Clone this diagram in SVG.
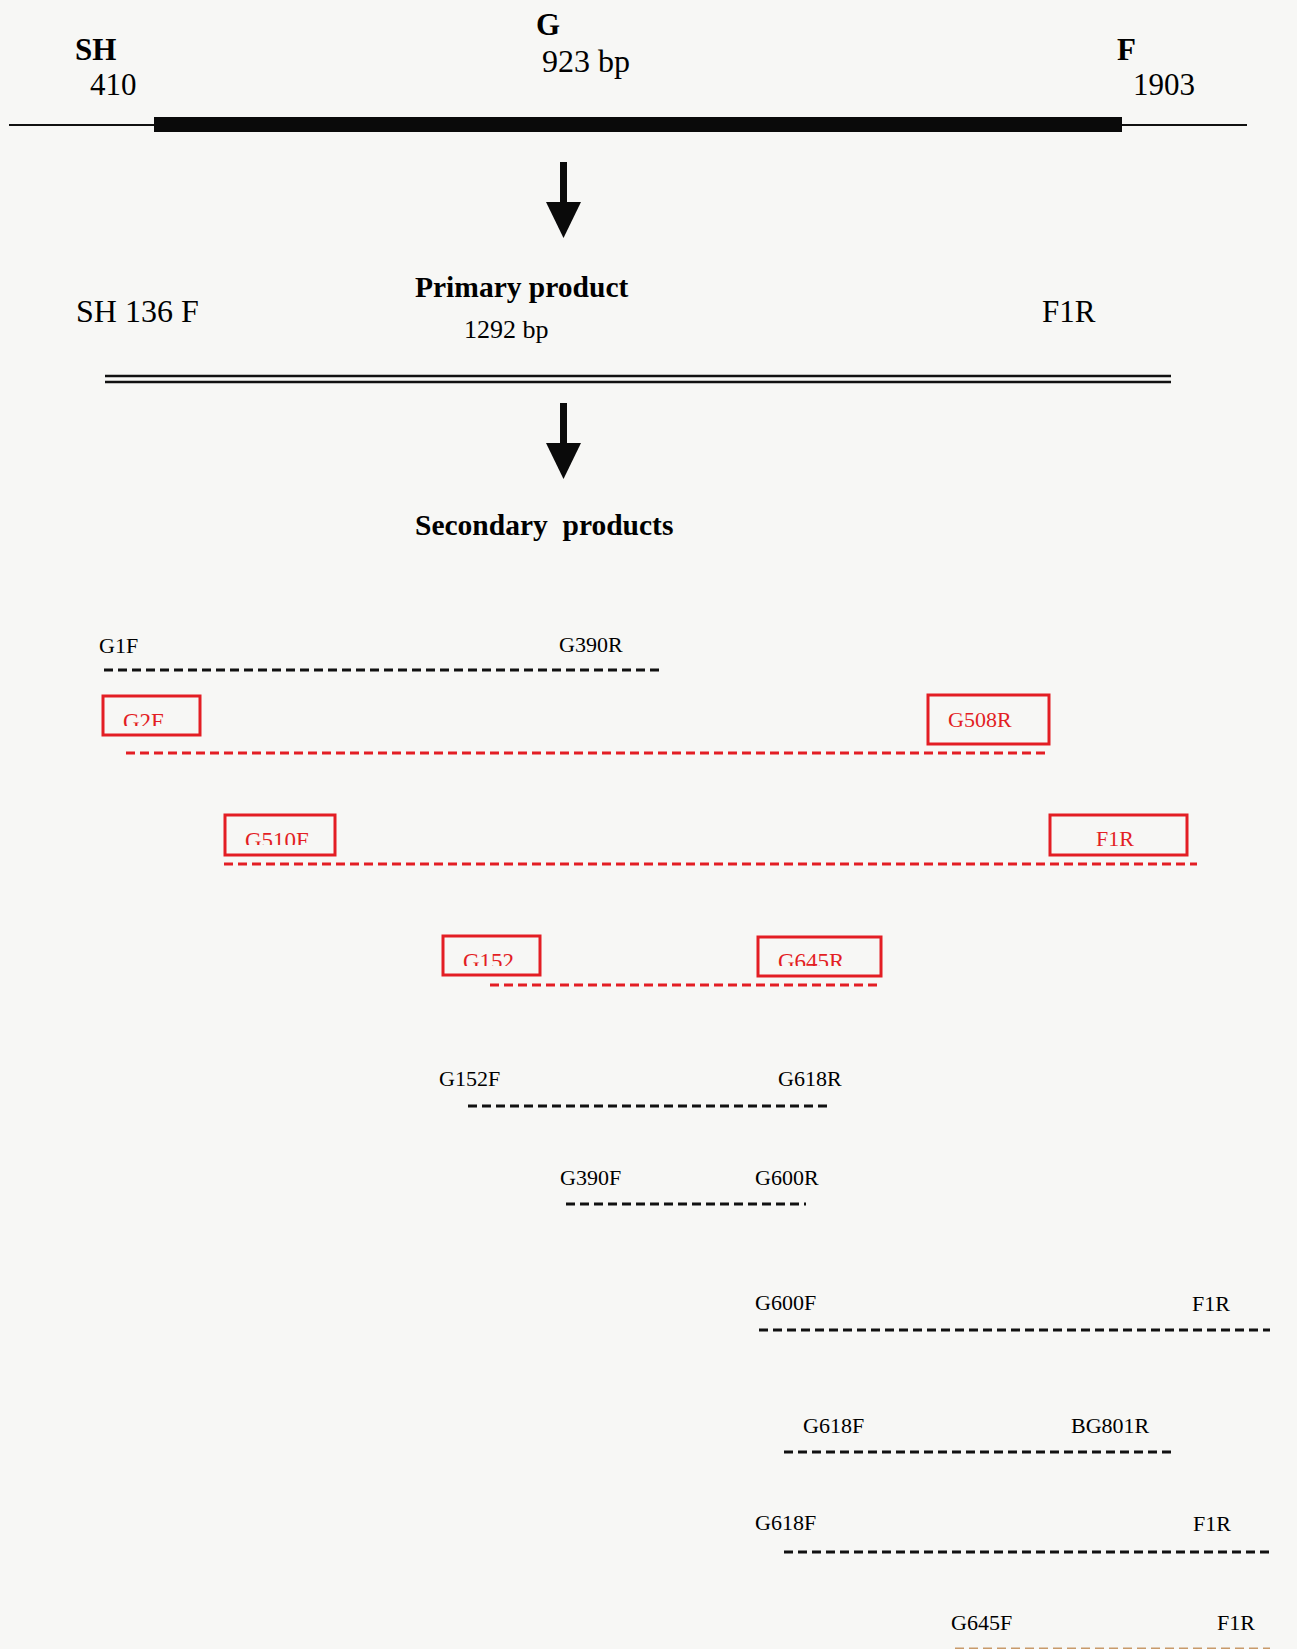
<svg xmlns="http://www.w3.org/2000/svg" width="1297" height="1649" viewBox="0 0 1297 1649">
<style>
.t{font-family:"Liberation Serif","Times New Roman",serif;fill:#000}
.b{font-weight:bold}
.big{font-size:31px}
.hd{font-size:29.5px;font-weight:bold}
.lb{font-size:22px}
.rt{font-family:"Liberation Serif","Times New Roman",serif;font-size:22px;fill:#e31e24}
.box{fill:none;stroke:#e31e24;stroke-width:3}
.dk{stroke:#111;stroke-width:3;stroke-dasharray:9 5;fill:none}
.dr{stroke:#e31e24;stroke-width:3;stroke-dasharray:9 5;fill:none}
</style>
<defs>
<clipPath id="cG2F"><rect x="100" y="690" width="110" height="36"/></clipPath>
<clipPath id="cG510F"><rect x="220" y="810" width="120" height="35"/></clipPath>
<clipPath id="cG152"><rect x="440" y="930" width="105" height="36"/></clipPath>
<clipPath id="cG645R"><rect x="755" y="930" width="130" height="36"/></clipPath>
</defs>
<rect x="0" y="0" width="1297" height="1649" fill="#f7f7f5"/>

<g id="genome">
<line x1="9" y1="125" x2="1247" y2="125" stroke="#111" stroke-width="2"/>
<rect x="154" y="117" width="968" height="15" fill="#0a0a0a"/>
<text class="t b big" x="75" y="60">SH</text>
<text class="t big" x="90" y="95">410</text>
<text class="t b big" x="536" y="35">G</text>
<text class="t big" x="542" y="72" style="font-size:32px">923 bp</text>
<text class="t b big" x="1117" y="60">F</text>
<text class="t big" x="1133" y="95">1903</text>
</g>

<g id="primary">
<text class="t hd" x="415" y="297">Primary product</text>
<text class="t big" x="76" y="322" style="font-size:32px">SH 136 F</text>
<text class="t big" x="1042" y="322">F1R</text>
<text class="t" style="font-size:26px" x="464" y="338">1292 bp</text>
<line x1="105" y1="376" x2="1171" y2="376" stroke="#111" stroke-width="2.5"/>
<line x1="105" y1="382" x2="1171" y2="382" stroke="#111" stroke-width="2.5"/>
</g>

<g id="secondary-title">
<text class="t hd" x="415" y="535">Secondary&#160; products</text>
</g>

<g id="connectors">
<rect x="560" y="162" width="7" height="42" fill="#0a0a0a"/>
<polygon points="546,202 581,202 563.5,238" fill="#0a0a0a"/>
<rect x="560" y="403" width="7" height="42" fill="#0a0a0a"/>
<polygon points="546,443 581,443 563.5,479" fill="#0a0a0a"/>
</g>

<g id="p-G1F-G390R">
<text class="t lb" x="99" y="653">G1F</text>
<text class="t lb" x="559" y="652">G390R</text>
<line class="dk" x1="104" y1="670" x2="661" y2="670"/>
</g>

<g id="p-G2F-G508R">
<rect class="box" x="103" y="696" width="97" height="39"/>
<text class="rt" x="123" y="728.5" clip-path="url(#cG2F)" style="font-size:23px">G2F</text>
<rect class="box" x="928" y="695" width="121" height="49"/>
<text class="rt" x="948" y="727">G508R</text>
<line class="dr" x1="126" y1="753" x2="1047" y2="753"/>
</g>

<g id="p-G510F-F1R">
<rect class="box" x="225" y="815" width="110" height="40"/>
<text class="rt" x="245" y="847.5" clip-path="url(#cG510F)" style="font-size:23px">G510F</text>
<rect class="box" x="1050" y="815" width="137" height="40"/>
<text class="rt" x="1096" y="846">F1R</text>
<line class="dr" x1="224" y1="864" x2="1197" y2="864"/>
</g>

<g id="p-G152-G645R">
<rect class="box" x="443" y="936" width="97" height="39"/>
<text class="rt" x="463" y="968.5" clip-path="url(#cG152)" style="font-size:23px">G152</text>
<rect class="box" x="758" y="937" width="123" height="39"/>
<text class="rt" x="778" y="968.5" clip-path="url(#cG645R)" style="font-size:23px">G645R</text>
<line class="dr" x1="490" y1="985" x2="882" y2="985"/>
</g>

<g id="p-G152F-G618R">
<text class="t lb" x="439" y="1086">G152F</text>
<text class="t lb" x="778" y="1086">G618R</text>
<line class="dk" x1="468" y1="1106" x2="830" y2="1106"/>
</g>

<g id="p-G390F-G600R">
<text class="t lb" x="560" y="1185">G390F</text>
<text class="t lb" x="755" y="1185">G600R</text>
<line class="dk" x1="566" y1="1204" x2="806" y2="1204"/>
</g>

<g id="p-G600F-F1R">
<text class="t lb" x="755" y="1310">G600F</text>
<text class="t lb" x="1192" y="1311">F1R</text>
<line class="dk" x1="759" y1="1330" x2="1270" y2="1330"/>
</g>

<g id="p-G618F-BG801R">
<text class="t lb" x="803" y="1433">G618F</text>
<text class="t lb" x="1071" y="1433">BG801R</text>
<line class="dk" x1="784" y1="1452" x2="1173" y2="1452"/>
</g>

<g id="p-G618F-F1R">
<text class="t lb" x="755" y="1530">G618F</text>
<text class="t lb" x="1193" y="1531">F1R</text>
<line class="dk" x1="784" y1="1552" x2="1270" y2="1552"/>
</g>

<g id="p-G645F-F1R">
<text class="t lb" x="951" y="1630">G645F</text>
<text class="t lb" x="1217" y="1630">F1R</text>
<line class="dk" x1="955" y1="1649" x2="1270" y2="1649" style="stroke:#c89a6a"/>
</g>
</svg>
